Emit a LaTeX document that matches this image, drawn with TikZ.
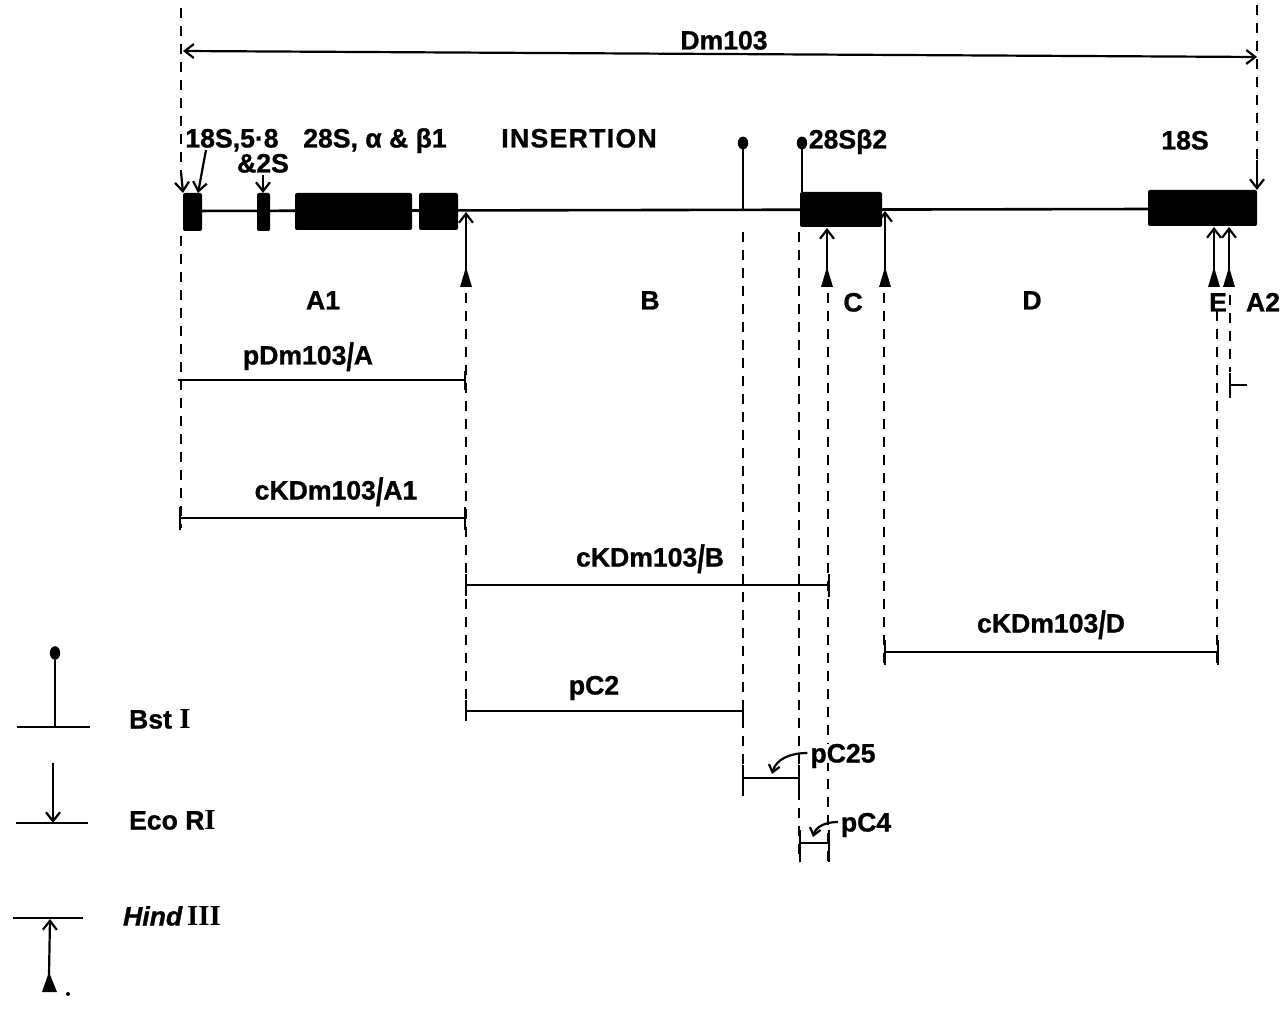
\documentclass[tikz,border=0pt]{standalone}
\usepackage{fontspec}
\setmainfont{Liberation Sans}
\newfontfamily\romfont{Liberation Serif}
\usetikzlibrary{arrows.meta}
\newcommand\tsl{\raisebox{-0.22em}{\scalebox{1}[1.45]{/}}}
\begin{document}
\begin{tikzpicture}[x=0.5pt,y=-0.5pt,line width=1.1pt,
  lbl/.style={font=\fontsize{13.3}{15}\selectfont\bfseries\addfontfeature{FakeBold=1},inner sep=0pt,text height=9.5pt,text depth=0pt},
  dsh/.style={dash pattern=on 5pt off 4pt},
  barb/.style={-{Straight Barb[length=4.5pt,width=7pt]}},
  smallbarb/.style={-{Straight Barb[length=3.5pt,width=5.5pt]}},
  gene/.style={fill=black,rounded corners=1pt},
  tri/.style={fill=black}]
\useasboundingbox (0,0) rectangle (1284,1010);

% ---- named sites ----
\coordinate (L0) at (183,211);
\coordinate (DmL) at (183,51);
\coordinate (DmR) at (1257,57);

% ---- top dimension ----
\draw[dsh] (181,8) -- (181,172) coordinate (ecoL);
\draw[barb] (ecoL) -- (183,193);
\draw[dsh] (1257,5) -- (1257,160) coordinate (ecoR);
\draw[barb] (ecoR) -- (1257,190);
\draw[{Straight Barb[length=4.5pt,width=7pt]}-{Straight Barb[length=4.5pt,width=7pt]}] (DmL) -- (DmR);
\node[lbl] (dm) at (724,40) {Dm103};

% ---- main line and genes ----
\draw[line width=1.3pt] (L0) -- (1150,209);
\fill[gene] (183,193) rectangle (202,231);
\fill[gene] (257,193) rectangle (270,231);
\fill[gene] (295,193) rectangle (412,230);
\fill[gene] (419,193) rectangle (458,230);
\fill[gene] (800,192) rectangle (882,227);
\fill[gene] (1148,190) rectangle (1257,226);

% ---- top labels ----
\node[lbl] (l18) at (232,138) {18S,5·8};
\node[lbl] (l2s) at (263,163) {\&2S};
\node[lbl] (l28) at (375,138) {28S, α \& β1};
\node[lbl] (ins) at (579,138) {\addfontfeature{LetterSpace=5}INSERTION};
\node[lbl] (l28b) at (848,139) {28Sβ2};
\node[lbl] (l18b) at (1185,140) {18S};
\draw[barb] (206,150) -- (198,193);
\draw[barb] (263,175) -- (263,193);

% ---- BstI sites ----
\draw (743,210) -- (743,148);
\fill (743,143) ellipse (2.6pt and 3.2pt);
\draw (802,192) -- (802,148);
\fill (802,143) ellipse (2.6pt and 3.2pt);

% ---- HindIII sites ----
\foreach \x/\t in {466/212,827/228,885/211,1214/227,1229/227}{
  \draw[barb] (\x,284) -- (\x,\t);
  \fill[tri] (\x-6,287) -- (\x,267) -- (\x+6,287) -- cycle;
}

% ---- dashed verticals ----
\draw[dsh] (181,236) -- (181,528);
\draw[dsh] (466,293) -- (466,720);
\draw[dsh] (743,232) -- (743,796);
\draw[dsh] (799,232) -- (799,862);
\draw[dsh] (828,293) -- (828,862);
\draw[dsh] (884,293) -- (884,664);
\draw[dsh] (1217,293) -- (1217,664);
\draw[dsh] (1230,295) -- (1230,372);

% ---- fragment labels ----
\node[lbl] (A1) at (323,300) {A1};
\node[lbl] (B) at (650,300) {B};
\node[lbl] (C) at (853,302) {C};
\node[lbl] (D) at (1032,300) {D};
\node[lbl,fill=white] (E) at (1218,302) {E};
\node[lbl] (A2) at (1263,302) {A2};

% ---- clones ----
\node[lbl] (pA) at (308,355) {pDm103\tsl A};
\draw (178,380) -- (465,380);
\draw (465,371) -- (465,390);

\node[lbl] (cA1) at (336,490) {cKDm103\tsl A1};
\draw (180,518) -- (465,518);
\draw (180,507) -- (180,530); \draw (465,507) -- (465,530);

\node[lbl] (cB) at (650,557) {cKDm103\tsl B};
\draw (466,585) -- (829,585);
\draw (466,574) -- (466,596); \draw (829,574) -- (829,597);

\node[lbl] (pC2) at (594,685) {pC2};
\draw (466,711) -- (743,711);
\draw (466,700) -- (466,721); \draw (743,700) -- (743,721);

\node[lbl] (cD) at (1051,623) {cKDm103\tsl D};
\draw (885,652) -- (1218,652);
\draw (885,640) -- (885,665); \draw (1218,640) -- (1218,665);

\node[lbl,fill=white,inner xsep=1pt] (pC25) at (843,753) {pC25};
\draw (743,778) -- (799,778);
\draw (743,765) -- (743,796); \draw (799,765) -- (799,796);
\draw[smallbarb] (pC25.west) to[out=180,in=75] (772,774);

\node[lbl,fill=white,inner xsep=1pt] (pC4) at (866,822) {pC4};
\draw (800,843) -- (829,843);
\draw (800,830) -- (800,862); \draw (829,830) -- (829,862);
\draw[smallbarb] (pC4.west) to[out=180,in=75] (813,837);

\draw (1230,373) -- (1230,398);
\draw (1230,385) -- (1247,385);

% ---- legend ----
\draw (17,727) -- (90,727);
\draw (55,727) -- (55,660);
\fill (55,653) ellipse (2.6pt and 3.4pt);
\node[lbl,anchor=west] (bst) at (128,719) {Bst {\romfont\bfseries\fontsize{14.5}{15}\selectfont I}};

\draw (16,823) -- (88,823);
\draw[barb] (53,763) -- (53,823);
\node[lbl,anchor=west] (eco) at (128,820) {Eco R{\romfont\bfseries\fontsize{14.5}{15}\selectfont I}};

\draw (13,918) -- (83,918);
\draw[barb] (49,975) -- (50,919);
\fill[tri] (42,992) -- (49,972) -- (57,992) -- cycle;
\fill (68,994) circle (1pt);
\node[lbl,anchor=west] (hind) at (122,916) {\textit{Hind}\,{\romfont\bfseries\fontsize{14.5}{15}\selectfont III}};
\end{tikzpicture}
\end{document}
